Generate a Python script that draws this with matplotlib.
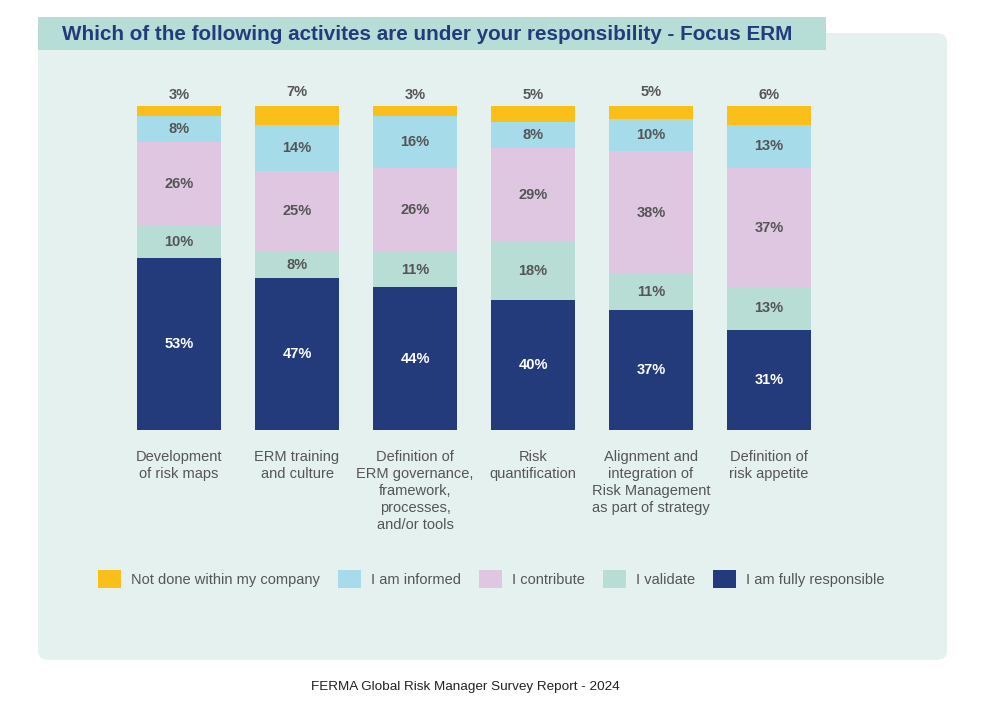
import matplotlib.pyplot as plt
from matplotlib.patches import FancyBboxPatch, Rectangle, Patch
import numpy as np

plt.rcParams['font.family'] = ['Liberation Sans', 'DejaVu Sans']

categories = [
    "Development\nof risk maps",
    "ERM training\nand culture",
    "Definition of\nERM governance,\nframework,\nprocesses,\nand/or tools",
    "Risk\nquantification",
    "Alignment and\nintegration of\nRisk Management\nas part of strategy",
    "Definition of\nrisk appetite",
]

# stacked from the bottom up
fully_responsible = [53, 47, 44, 40, 37, 31]
validate = [10, 8, 11, 18, 11, 13]
contribute = [26, 25, 26, 29, 38, 37]
informed = [8, 14, 16, 8, 10, 13]
not_done = [3, 7, 3, 5, 5, 6]

series = [
    ("I am fully responsible", fully_responsible, "#233a7b", "white"),
    ("I validate", validate, "#b7ddd5", "#555555"),
    ("I contribute", contribute, "#dfc7e1", "#555555"),
    ("I am informed", informed, "#a6dbea", "#555555"),
    ("Not done within my company", not_done, "#fbbf1a", "#555555"),
]

W, H = 988, 702
fig = plt.figure(figsize=(W / 100, H / 100), dpi=100)
fig.patch.set_facecolor("white")

# background panel
panel = FancyBboxPatch((38 / W, 1 - 660 / H), (947 - 38) / W, (660 - 33) / H,
                       boxstyle="round,pad=0,rounding_size=0.012",
                       transform=fig.transFigure, facecolor="#e5f1ee",
                       edgecolor="none", zorder=-2)
fig.patches.append(panel)
band = Rectangle((38 / W, 1 - 50 / H), (826 - 38) / W, 33 / H,
                 transform=fig.transFigure, facecolor="#b6ddd6",
                 edgecolor="none", zorder=-1)
fig.patches.append(band)
fig.text(62 / W, 1 - 34 / H,
         "Which of the following activites are under your responsibility - Focus ERM",
         fontsize=14.9, fontweight="bold", color="#233a7b", va="center", ha="left")

# bar area: x -0.5..5.5 maps to px 120..828, y 0..100 maps to px 430..106
ax = fig.add_axes([120 / W, 1 - 430 / H, (828 - 120) / W, 324 / H])
ax.set_zorder(2)
ax.set_xlim(-0.5, 5.5)
ax.set_ylim(0, 100)
ax.axis("off")

x = np.arange(len(categories))
bottom = np.zeros(len(categories))
for name, vals, color, tcol in series:
    vals = np.array(vals)
    ax.bar(x, vals, 0.72, bottom=bottom, color=color, label=name)
    for xi, b, v in zip(x, bottom, vals):
        if name == "Not done within my company":
            ax.annotate(f"{v}%", (xi, b + v), xytext=(0, 3),
                        textcoords="offset points", ha="center", va="bottom",
                        fontsize=10.5, fontweight="bold", color=tcol,
                        annotation_clip=False)
        else:
            ax.text(xi, b + v / 2, f"{v}%", ha="center", va="center",
                    fontsize=10.5, fontweight="bold", color=tcol)
    bottom = bottom + vals

for xi, cat in zip(x, categories):
    ax.annotate(cat, (xi, 0), xytext=(0, -14.5), textcoords="offset points",
                ha="center", va="top", fontsize=10.5, color="#555555",
                linespacing=1.28, annotation_clip=False)

handles = [Patch(facecolor=c, edgecolor="none", label=n)
           for n, _, c, _ in reversed(series)]
leg = fig.legend(handles=handles, loc="center left",
                 bbox_to_anchor=(85 / W, 1 - 579 / H), ncol=5, frameon=False,
                 fontsize=10.5, handlelength=1.55, handleheight=1.6,
                 handletextpad=0.7, columnspacing=1.25)
for t in leg.get_texts():
    t.set_color("#555555")

fig.text(465 / W, 1 - 687 / H, "FERMA Global Risk Manager Survey Report - 2024",
         fontsize=9.7, color="#222222", ha="center", va="center",
         family=["Liberation Sans Narrow", "Liberation Sans", "DejaVu Sans"])

fig.savefig("out.png", dpi=100)
